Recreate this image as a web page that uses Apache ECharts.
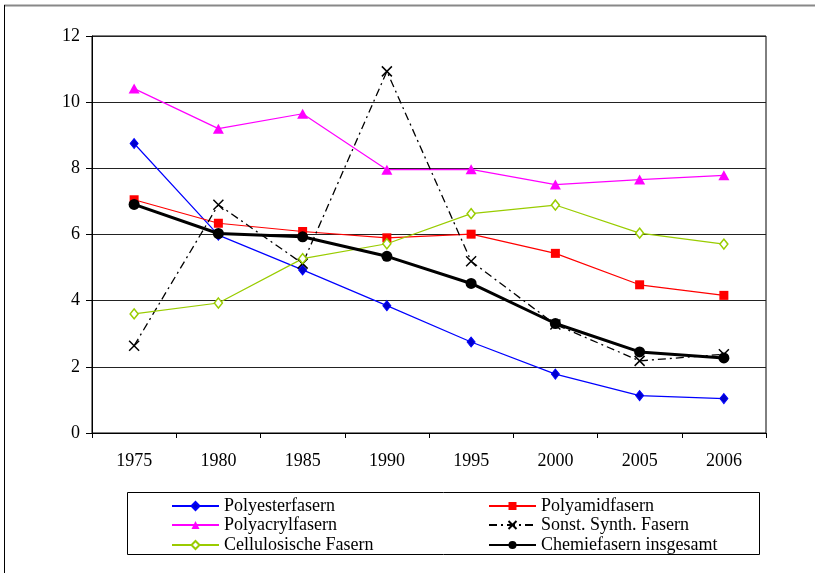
<!DOCTYPE html>
<html>
<head>
<meta charset="utf-8">
<script src="https://cdn.jsdelivr.net/npm/echarts@6/dist/echarts.min.js"></script>
<style>
html,body{margin:0;padding:0;background:#fff;}
#chart{width:815px;height:573px;}
</style>
</head>
<body>
<div id="chart"></div>
<script>
const years = ['1975','1980','1985','1990','1995','2000','2005','2006'];
const polyester = [8.75, 5.98, 4.93, 3.85, 2.75, 1.78, 1.13, 1.04];
const polyamid = [7.05, 6.34, 6.09, 5.90, 6.01, 5.43, 4.48, 4.16];
const polyacryl = [10.41, 9.20, 9.65, 7.96, 7.97, 7.51, 7.66, 7.79];
const sonst = [2.64, 6.90, 5.12, 10.93, 5.19, 3.28, 2.18, 2.38];
const cellulose = [3.60, 3.93, 5.27, 5.72, 6.63, 6.89, 6.04, 5.71];
const chemie = [6.91, 6.03, 5.93, 5.34, 4.52, 3.31, 2.45, 2.27];
const yTicks = {min: 0, max: 12, interval: 2};

const FONT = 'Liberation Serif';
const chart = echarts.init(document.getElementById('chart'));

function leg(name, left, top) {
  return {
    data: [name], left: left, top: top, padding: 0,
    itemWidth: 47, itemHeight: 10, selectedMode: false,
    textStyle: {fontFamily: FONT, fontSize: 18, color: '#000'}
  };
}

chart.setOption({
  animation: false,
  backgroundColor: '#fff',
  graphic: [
    {type: 'line', shape: {x1: 4, y1: 5.5, x2: 815, y2: 5.5}, style: {stroke: '#888', lineWidth: 2}},
    {type: 'line', shape: {x1: 4.5, y1: 5, x2: 4.5, y2: 573}, style: {stroke: '#000', lineWidth: 1}},
    {type: 'rect', shape: {x: 127.5, y: 492.5, width: 632, height: 62}, style: {fill: 'none', stroke: '#000', lineWidth: 1}}
  ],
  legend: [
    leg('Polyesterfasern', 171, 497),
    leg('Polyamidfasern', 488, 497),
    leg('Polyacrylfasern', 171, 516),
    leg('Sonst. Synth. Fasern', 488, 516),
    leg('Cellulosische Fasern', 171, 536),
    leg('Chemiefasern insgesamt', 488, 536)
  ],
  grid: {left: 92, top: 36, width: 674, height: 397, show: true, borderColor: '#000', borderWidth: 1},
  xAxis: {
    type: 'category', data: years, boundaryGap: true,
    axisLine: {lineStyle: {color: '#000', width: 1}},
    axisTick: {show: true, interval: 0, length: 5, lineStyle: {color: '#000'}},
    axisLabel: {fontFamily: FONT, fontSize: 18, color: '#000', margin: 19, interval: 0}
  },
  yAxis: {
    type: 'value', min: yTicks.min, max: yTicks.max, interval: yTicks.interval,
    axisLine: {show: true, lineStyle: {color: '#000', width: 1}},
    axisTick: {show: true, length: 6, lineStyle: {color: '#000'}},
    axisLabel: {fontFamily: FONT, fontSize: 18, color: '#000', margin: 12},
    splitLine: {show: true, lineStyle: {color: '#222', width: 1}}
  },
  series: [
    {name: 'Polyesterfasern', type: 'line', data: polyester, color: '#0000ff',
     symbol: 'diamond', symbolSize: [8, 10],
     itemStyle: {color: '#0000cc', borderColor: '#0000ff', borderWidth: 1},
     lineStyle: {color: '#0000ff', width: 1.2}},
    {name: 'Polyamidfasern', type: 'line', data: polyamid, color: '#ff0000',
     symbol: 'rect', symbolSize: 9,
     itemStyle: {color: '#ff0000'},
     lineStyle: {color: '#ff0000', width: 1.2}},
    {name: 'Polyacrylfasern', type: 'line', data: polyacryl, color: '#ff00ff',
     symbol: 'triangle', symbolSize: [11, 10],
     itemStyle: {color: '#ff00ff'},
     lineStyle: {color: '#ff00ff', width: 1.2}},
    {name: 'Sonst. Synth. Fasern', type: 'line', data: sonst, color: '#000',
     symbol: 'path://M0,0L10,10M10,0L0,10', symbolSize: 10,
     itemStyle: {color: 'none', borderColor: '#000', borderWidth: 1.5},
     lineStyle: {color: '#000', width: 1.3, type: [8, 4, 2, 4]}},
    {name: 'Cellulosische Fasern', type: 'line', data: cellulose, color: '#99cc00',
     symbol: 'diamond', symbolSize: [8, 10],
     itemStyle: {color: '#fff', borderColor: '#99cc00', borderWidth: 1.5},
     lineStyle: {color: '#99cc00', width: 1.2}},
    {name: 'Chemiefasern insgesamt', type: 'line', data: chemie, color: '#000',
     symbol: 'circle', symbolSize: 11,
     itemStyle: {color: '#000'},
     lineStyle: {color: '#000', width: 3}, z: 5}
  ]
});
</script>
</body>
</html>
